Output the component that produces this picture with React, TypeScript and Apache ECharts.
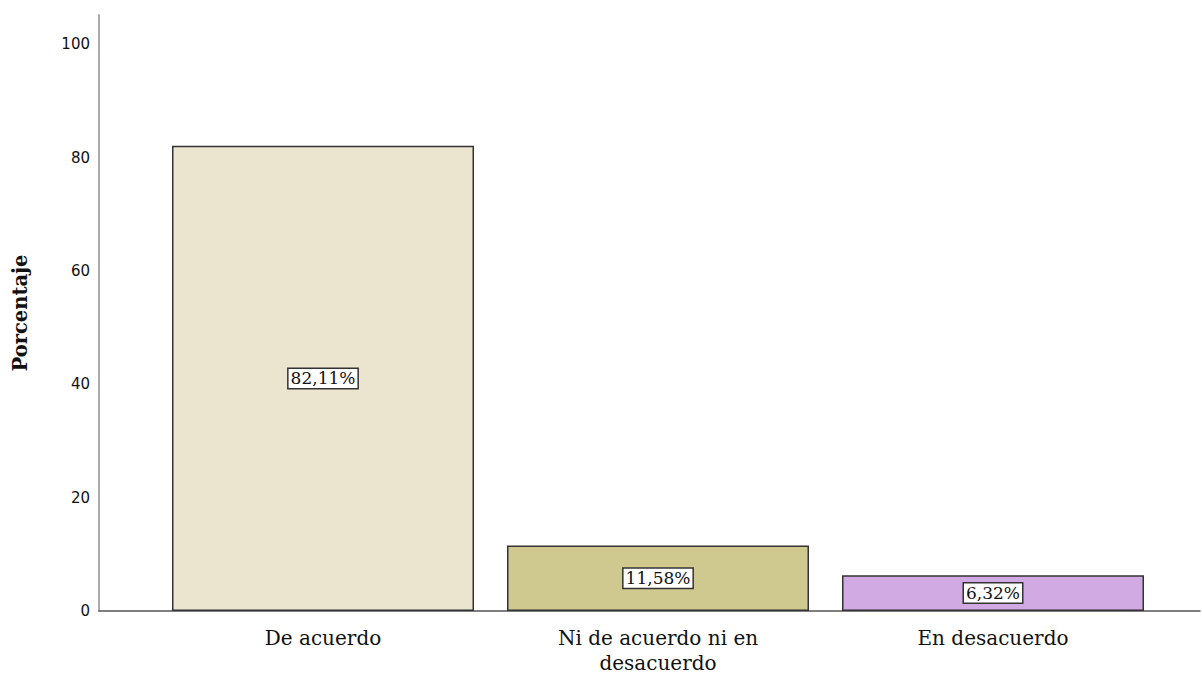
import React, { useEffect, useRef } from "react";
import * as echarts from "echarts";

const categories = ["De acuerdo", "Ni de acuerdo ni en\ndesacuerdo", "En desacuerdo"];
const values = [82.11, 11.58, 6.32];
const barColors = ["#EBE5D0", "#CFC98F", "#D1A9E3"];
const yTicks = [0, 20, 40, 60, 80, 100];

export default function App() {
  const ref = useRef<HTMLDivElement>(null);
  useEffect(() => {
    if (!ref.current) return;
    const chart = echarts.init(ref.current, null, { renderer: "svg" });
    const yMax = 105.2;
    chart.setOption({
      animation: false,
      backgroundColor: "#ffffff",
      grid: [
        { left: 99, right: 2, top: 15, bottom: 65 },
        { left: 155.5, right: 41.5, top: 15, bottom: 65 },
      ],
      xAxis: [
        {
          type: "category",
          gridIndex: 0,
          data: [""],
          axisLine: { show: true, lineStyle: { color: "#555555", width: 1.5 } },
          axisTick: { show: false },
          axisLabel: { show: false },
          splitLine: { show: false },
        },
        {
          type: "category",
          gridIndex: 1,
          data: categories,
          axisLine: { show: false },
          axisTick: { show: false },
          axisLabel: {
            show: true,
            interval: 0,
            margin: 14,
            fontFamily: "DejaVu Serif",
            fontSize: 20,
            lineHeight: 25,
            color: "#111111",
          },
          splitLine: { show: false },
        },
      ],
      yAxis: [
        {
          type: "value",
          gridIndex: 0,
          min: 0,
          max: yMax,
          interval: 20,
          name: "Porcentaje",
          nameLocation: "middle",
          nameGap: 69,
          nameTextStyle: {
            fontFamily: "DejaVu Serif",
            fontWeight: "bold",
            fontSize: 19.5,
            color: "#111111",
          },
          axisLine: { show: true, lineStyle: { color: "#AAAAAA", width: 2 } },
          axisTick: { show: false },
          splitLine: { show: false },
          axisLabel: {
            showMaxLabel: false,
            margin: 9,
            fontFamily: "DejaVu Sans",
            fontSize: 15,
            color: "#111111",
            formatter: (v: number) => (yTicks.includes(v) ? String(v) : ""),
          },
        },
        {
          type: "value",
          gridIndex: 1,
          min: 0,
          max: yMax,
          show: false,
          splitLine: { show: false },
        },
      ],
      series: [
        {
          type: "bar",
          xAxisIndex: 1,
          yAxisIndex: 1,
          barWidth: 302,
          data: values.map((v, i) => ({
            value: v,
            itemStyle: { color: barColors[i], borderColor: "#333333", borderWidth: 1.5 },
          })),
          label: {
            show: true,
            position: "inside",
            formatter: (p: any) => p.value.toFixed(2).replace(".", ",") + "%",
            fontFamily: "DejaVu Serif",
            fontSize: 17,
            lineHeight: 17,
            color: "#111111",
            backgroundColor: "#ffffff",
            borderColor: "#333333",
            borderWidth: 1.5,
            padding: [1, 2, 1, 2],
          },
        },
      ],
    });
    return () => chart.dispose();
  }, []);
  return <div ref={ref} style={{ width: 1202, height: 676, position: "absolute", left: 0, top: 0 }} />;
}
